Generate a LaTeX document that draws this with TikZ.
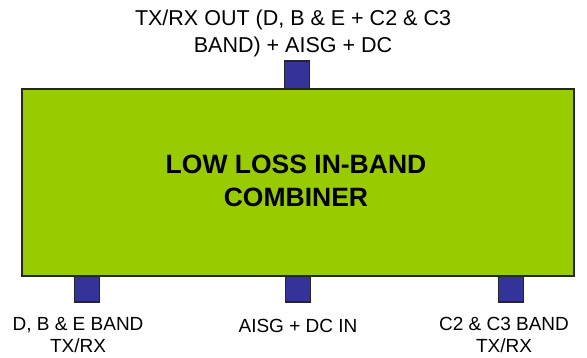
\documentclass[tikz,border=0pt]{standalone}
\usepackage{fontspec}
\setmainfont{Liberation Sans}
\definecolor{boxgreen}{HTML}{99CC00}
\definecolor{portblue}{HTML}{333399}
\begin{document}
\begin{tikzpicture}[x=1pt,y=-1pt,
  port/.style={draw=black!85,line width=1.2pt,fill=portblue,minimum width=25pt,inner sep=0pt,outer sep=0pt},
  lbl/.style={align=center,font=\fontsize{19}{22}\selectfont,inner sep=0pt}]
\useasboundingbox (0,0) rectangle (587,358);
\node[draw=black!85,line width=1.2pt,fill=boxgreen,minimum width=552pt,minimum height=187pt,inner sep=0pt,outer sep=0pt] (comb) at (298,182.5) {};
\node[align=center,font=\bfseries\fontsize{26.5}{33}\selectfont,inner sep=0pt] (ctext) at (296,181) {LOW LOSS IN-BAND\\COMBINER};
\node[port,minimum height=28pt,anchor=south] (ptop) at (297,89) {};
\node[port,minimum height=26pt,anchor=north] (pl) at (87,276) {};
\node[port,minimum height=26pt,anchor=north] (pm) at (298,276) {};
\node[port,minimum height=26pt,anchor=north] (pr) at (511,276) {};
\node[lbl,font=\fontsize{21.5}{27}\selectfont] (ttop) at (293,33) {TX/RX OUT (D, B \& E + C2 \& C3\\BAND) + AISG + DC};
\node[lbl] (tl) at (78,335) {D, B \& E BAND\\TX/RX};
\node[lbl] (tm) at (298,326) {AISG + DC IN};
\node[lbl] (tr) at (504,335) {C2 \& C3 BAND\\TX/RX};
\end{tikzpicture}
\end{document}
